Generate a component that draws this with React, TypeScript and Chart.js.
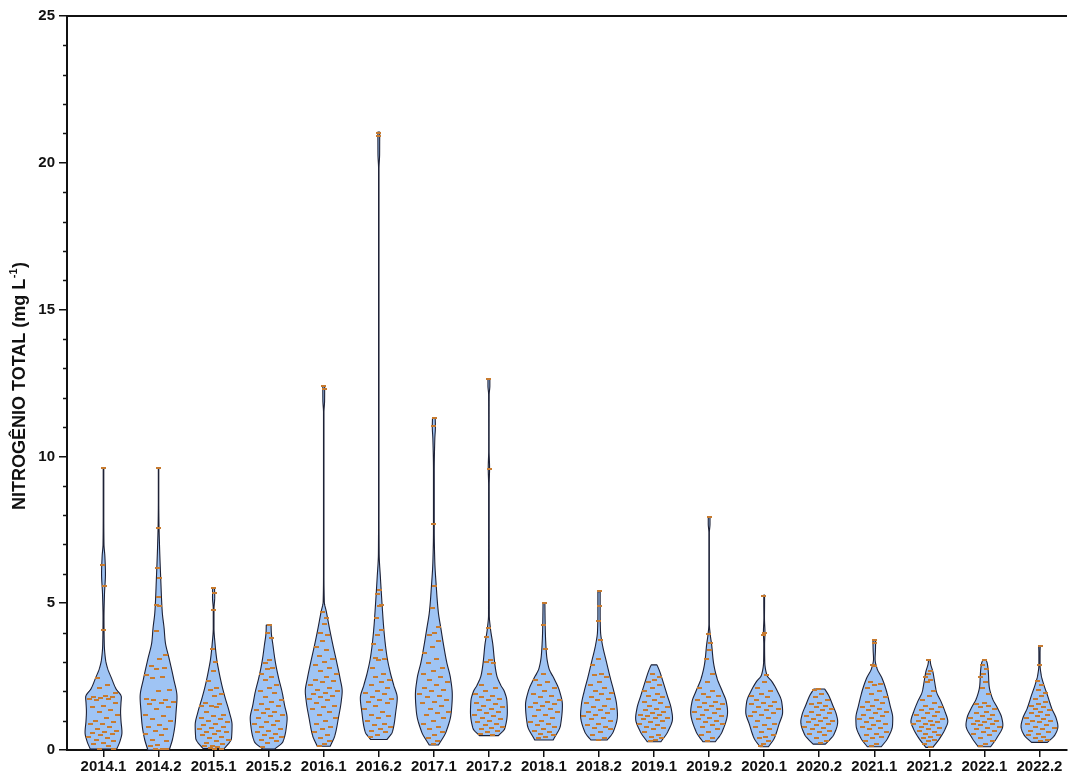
import React, { useEffect, useRef } from "react";
import { Chart, registerables } from "chart.js";

Chart.register(...registerables);

const CATEGORIES = [
  "2014.1", "2014.2", "2015.1", "2015.2", "2016.1", "2016.2", "2017.1", "2017.2", "2018.1",
  "2018.2", "2019.1", "2019.2", "2020.1", "2020.2", "2021.1", "2021.2", "2022.1", "2022.2",
];
const Y_TICKS = [0, 5, 10, 15, 20, 25];
const Y_TITLE_MAIN = "NITROGÊNIO TOTAL (mg L";
const Y_TITLE_SUP = "-1";
const Y_TITLE_END = ")";

// Violin density profiles: [value, relative density]
const PROFILE_2014_1 = [[0.03,0.68],[0.3,0.85],[0.6,0.95],[1.0,0.9],[1.3,0.88],[1.6,0.9],[1.8,0.92],[2.1,0.63],[2.45,0.41],[2.8,0.2],[3.1,0.1],[3.6,0.04],[4.5,0.025],[5.3,0.05],[6.0,0.1],[6.6,0.07],[7.0,0.025],[8.0,0.015],[9.6,0.015]];
const PROFILE_2014_2 = [[0.0,0.58],[0.4,0.77],[0.9,0.9],[1.3,0.95],[1.8,1.0],[2.45,0.81],[3.1,0.58],[3.7,0.36],[4.15,0.3],[4.7,0.2],[5.8,0.12],[7.0,0.05],[7.8,0.02],[8.5,0.012],[9.6,0.012]];
const PROFILE_2015_1 = [[0.05,0.58],[0.4,0.97],[0.85,1.0],[1.3,0.85],[1.77,0.63],[2.2,0.45],[2.67,0.29],[3.13,0.16],[3.6,0.08],[4.15,0.02],[4.8,0.02],[5.2,0.06],[5.53,0.05]];
const PROFILE_2015_2 = [[0.03,0.32],[0.28,0.77],[0.74,0.95],[1.08,1.0],[1.53,0.86],[2.0,0.72],[2.45,0.54],[3.0,0.36],[3.58,0.23],[4.03,0.14],[4.26,0.13]];
const PROFILE_2016_1 = [[0.13,0.34],[0.5,0.59],[1.08,0.77],[1.65,0.92],[2.0,0.97],[2.44,0.86],[3.0,0.68],[3.58,0.48],[4.15,0.3],[4.7,0.14],[5.05,0.03],[6.0,0.012],[11.5,0.012],[11.9,0.045],[12.4,0.05]];
const PROFILE_2016_2 = [[0.36,0.45],[0.62,0.74],[1.3,0.92],[1.77,1.0],[2.21,0.81],[2.67,0.61],[3.24,0.43],[4.14,0.27],[4.94,0.18],[5.85,0.09],[6.7,0.02],[8.0,0.012],[19.8,0.012],[20.3,0.045],[21.05,0.05]];
const PROFILE_2017_1 = [[0.17,0.24],[0.62,0.63],[1.3,0.9],[1.87,0.95],[2.44,0.86],[3.0,0.66],[3.58,0.5],[4.15,0.36],[4.7,0.23],[5.62,0.12],[6.4,0.05],[7.5,0.02],[9.5,0.02],[10.6,0.05],[11.0,0.08],[11.3,0.07]];
const PROFILE_2017_2 = [[0.49,0.5],[0.74,0.84],[1.3,0.97],[1.65,0.95],[2.0,0.81],[2.2,0.63],[2.55,0.41],[3.0,0.3],[3.58,0.21],[4.14,0.08],[4.6,0.02],[9.0,0.015],[9.6,0.035],[10.2,0.012],[12.1,0.015],[12.4,0.05],[12.65,0.05]];
const PROFILE_2018_1 = [[0.34,0.5],[0.85,0.9],[1.53,1.0],[2.0,0.85],[2.44,0.54],[2.78,0.27],[3.24,0.14],[4.14,0.07],[5.0,0.05]];
const PROFILE_2018_2 = [[0.34,0.43],[0.62,0.75],[1.19,0.97],[1.53,0.93],[2.0,0.78],[2.44,0.6],[3.0,0.39],[3.58,0.18],[4.03,0.08],[4.6,0.06],[5.39,0.06]];
const PROFILE_2019_1 = [[0.28,0.36],[0.62,0.72],[1.08,0.97],[1.42,0.9],[1.87,0.69],[2.33,0.47],[2.67,0.3],[2.8,0.22],[2.9,0.15]];
const PROFILE_2019_2 = [[0.28,0.32],[0.62,0.67],[1.3,0.95],[1.65,0.88],[2.0,0.68],[2.44,0.41],[3.0,0.22],[3.58,0.13],[3.97,0.05],[4.3,0.012],[7.4,0.012],[7.7,0.045],[7.95,0.045]];
const PROFILE_2020_1 = [[0.11,0.22],[0.4,0.52],[0.85,0.75],[1.3,0.95],[1.65,0.9],[2.0,0.68],[2.33,0.4],[2.55,0.14],[3.0,0.03],[3.6,0.02],[4.0,0.04],[4.5,0.015],[5.0,0.02],[5.28,0.02]];
const PROFILE_2020_2 = [[0.2,0.32],[0.35,0.55],[0.51,0.75],[0.97,0.96],[1.19,0.9],[1.53,0.7],[1.87,0.48],[2.04,0.32],[2.08,0.28]];
const PROFILE_2021_1 = [[0.11,0.36],[0.4,0.69],[0.85,0.94],[1.08,0.95],[1.53,0.81],[2.0,0.63],[2.44,0.4],[2.78,0.14],[3.1,0.04],[3.4,0.06],[3.72,0.07]];
const PROFILE_2021_2 = [[0.09,0.18],[0.4,0.54],[0.74,0.83],[0.97,0.95],[1.3,0.81],[1.65,0.6],[2.0,0.36],[2.33,0.27],[2.67,0.18],[2.95,0.06],[3.07,0.04]];
const PROFILE_2022_1 = [[0.11,0.32],[0.4,0.63],[0.85,0.95],[1.08,0.9],[1.42,0.68],[1.76,0.41],[2.2,0.24],[2.67,0.2],[2.97,0.14],[3.07,0.08]];
const PROFILE_2022_2 = [[0.26,0.41],[0.51,0.79],[0.8,0.95],[1.08,0.86],[1.42,0.63],[1.87,0.41],[2.21,0.23],[2.55,0.09],[2.9,0.03],[3.3,0.03],[3.55,0.04]];

// Individual observations
const POINTS_2014_1 = [9.6,6.3,5.6,4.1,2.45,2.2,2.1,1.95,1.85,1.8,1.8,1.78,1.75,1.75,1.7,1.6,1.5,1.45,1.35,1.3,1.2,1.1,1.0,0.95,0.9,0.88,0.8,0.7,0.65,0.6,0.58,0.55,0.5,0.45,0.42,0.35,0.3,0.25,0.2,0.12,0.05,0.03];
const POINTS_2014_2 = [9.6,7.55,6.2,5.85,5.2,4.95,4.9,4.05,3.25,3.1,2.85,2.8,2.75,2.55,2.5,2.45,2.05,2.0,1.75,1.72,1.7,1.65,1.6,1.55,1.45,1.4,1.2,1.15,1.05,1.0,0.85,0.8,0.7,0.65,0.55,0.5,0.35,0.3,0.18,0.15,0.02,0.02,0.02,0.01];
const POINTS_2015_1 = [5.53,5.35,4.77,3.45,3.0,2.7,2.35,2.1,2.05,1.9,1.85,1.6,1.55,1.5,1.5,1.45,1.3,1.2,1.15,1.1,1.05,1.0,0.95,0.9,0.85,0.8,0.75,0.7,0.65,0.6,0.6,0.55,0.5,0.45,0.4,0.35,0.3,0.25,0.2,0.15,0.12,0.1,0.08,0.05,0.05];
const POINTS_2015_2 = [4.25,4.0,3.8,3.05,2.95,2.8,2.75,2.6,2.5,2.4,2.2,2.1,2.0,1.95,1.8,1.7,1.65,1.55,1.5,1.4,1.35,1.3,1.25,1.2,1.15,1.1,1.0,0.95,0.9,0.85,0.8,0.7,0.65,0.6,0.55,0.5,0.45,0.4,0.35,0.3,0.25,0.1];
const POINTS_2016_1 = [12.4,12.3,4.7,4.5,4.3,4.0,3.9,3.7,3.5,3.4,3.2,3.1,3.0,2.9,2.8,2.7,2.6,2.5,2.4,2.35,2.3,2.2,2.1,2.05,2.0,1.95,1.9,1.85,1.8,1.75,1.7,1.6,1.5,1.45,1.4,1.3,1.2,1.1,1.0,0.9,0.8,0.7,0.6,0.5,0.4,0.3,0.2,0.15];
const POINTS_2016_2 = [21.0,20.9,5.45,5.3,4.95,4.9,4.5,4.1,3.9,3.6,3.4,3.15,3.1,3.05,2.8,2.6,2.5,2.4,2.3,2.2,2.1,2.0,1.95,1.9,1.8,1.75,1.7,1.65,1.6,1.5,1.4,1.3,1.2,1.15,1.1,1.0,0.9,0.85,0.8,0.7,0.65,0.6,0.5,0.45];
const POINTS_2017_1 = [11.3,11.05,7.7,5.6,4.85,4.2,4.0,3.9,3.7,3.5,3.3,3.1,2.95,2.8,2.7,2.6,2.5,2.4,2.3,2.2,2.1,2.05,2.0,1.9,1.85,1.8,1.7,1.65,1.6,1.5,1.4,1.3,1.25,1.2,1.1,1.0,0.9,0.8,0.7,0.6,0.5,0.4,0.3,0.2];
const POINTS_2017_2 = [12.62,9.57,4.15,3.85,3.05,3.0,2.95,2.6,2.2,2.1,2.0,1.9,1.85,1.8,1.75,1.7,1.6,1.55,1.5,1.45,1.4,1.35,1.3,1.25,1.2,1.15,1.1,1.05,1.0,0.95,0.9,0.85,0.8,0.75,0.7,0.65,0.6,0.55,0.5];
const POINTS_2018_1 = [5.0,4.25,3.45,2.6,2.4,2.3,2.2,2.1,2.0,1.9,1.85,1.8,1.7,1.65,1.6,1.55,1.5,1.45,1.4,1.35,1.3,1.2,1.15,1.1,1.0,0.95,0.9,0.85,0.8,0.7,0.65,0.6,0.55,0.5,0.45,0.4];
const POINTS_2018_2 = [5.4,4.9,4.4,3.75,3.1,2.9,2.6,2.55,2.5,2.3,2.2,2.1,2.0,1.95,1.9,1.8,1.75,1.7,1.6,1.5,1.45,1.4,1.35,1.3,1.25,1.2,1.15,1.1,1.05,1.0,0.9,0.85,0.8,0.75,0.7,0.6,0.5,0.4,0.35];
const POINTS_2019_1 = [2.6,2.5,2.4,2.3,2.2,2.1,2.0,1.9,1.85,1.8,1.7,1.65,1.6,1.5,1.45,1.4,1.35,1.3,1.25,1.2,1.2,1.15,1.1,1.1,1.05,1.0,0.95,0.9,0.85,0.8,0.75,0.7,0.6,0.5,0.45,0.4,0.35,0.3];
const POINTS_2019_2 = [7.92,3.95,3.65,3.4,3.1,2.6,2.3,2.1,2.0,1.9,1.85,1.8,1.7,1.65,1.6,1.55,1.5,1.45,1.4,1.35,1.3,1.25,1.2,1.15,1.1,1.05,1.0,0.95,0.9,0.85,0.8,0.7,0.6,0.5,0.4,0.3];
const POINTS_2020_1 = [5.25,4.0,3.9,2.55,2.3,2.1,2.0,1.9,1.85,1.8,1.7,1.65,1.6,1.55,1.5,1.45,1.4,1.35,1.3,1.25,1.2,1.15,1.1,1.0,0.9,0.85,0.8,0.7,0.6,0.5,0.45,0.4,0.3,0.2,0.12];
const POINTS_2020_2 = [2.07,2.05,1.9,1.8,1.7,1.6,1.55,1.5,1.45,1.4,1.35,1.3,1.25,1.2,1.15,1.1,1.05,1.0,1.0,0.95,0.9,0.85,0.8,0.75,0.7,0.65,0.6,0.55,0.5,0.4,0.3,0.25];
const POINTS_2021_1 = [3.75,3.65,2.9,2.85,2.3,2.25,2.2,2.1,2.0,1.9,1.8,1.7,1.65,1.6,1.5,1.45,1.4,1.35,1.3,1.25,1.2,1.15,1.1,1.05,1.0,0.95,0.9,0.85,0.8,0.75,0.7,0.6,0.55,0.5,0.45,0.4,0.3,0.2,0.15];
const POINTS_2021_2 = [3.05,2.7,2.6,2.5,2.4,2.3,2.0,1.85,1.7,1.6,1.5,1.45,1.4,1.35,1.3,1.25,1.2,1.15,1.1,1.05,1.0,1.0,0.95,0.9,0.9,0.85,0.8,0.75,0.7,0.65,0.6,0.55,0.5,0.45,0.4,0.35,0.3,0.2,0.1];
const POINTS_2022_1 = [3.05,2.9,2.75,2.6,2.5,2.3,2.1,1.9,1.6,1.55,1.5,1.45,1.4,1.3,1.25,1.2,1.15,1.1,1.05,1.0,1.0,0.95,0.9,0.9,0.85,0.8,0.75,0.7,0.65,0.6,0.55,0.5,0.4,0.3,0.2,0.15];
const POINTS_2022_2 = [3.55,2.9,2.35,2.2,2.05,1.95,1.85,1.75,1.65,1.55,1.5,1.45,1.4,1.35,1.3,1.25,1.2,1.15,1.1,1.05,1.0,1.0,0.95,0.9,0.85,0.8,0.75,0.7,0.65,0.6,0.55,0.5,0.45,0.4,0.35,0.3];

const PROFILES = [
  PROFILE_2014_1, PROFILE_2014_2, PROFILE_2015_1, PROFILE_2015_2, PROFILE_2016_1, PROFILE_2016_2,
  PROFILE_2017_1, PROFILE_2017_2, PROFILE_2018_1, PROFILE_2018_2, PROFILE_2019_1, PROFILE_2019_2,
  PROFILE_2020_1, PROFILE_2020_2, PROFILE_2021_1, PROFILE_2021_2, PROFILE_2022_1, PROFILE_2022_2,
];
const POINTS = [
  POINTS_2014_1, POINTS_2014_2, POINTS_2015_1, POINTS_2015_2, POINTS_2016_1, POINTS_2016_2,
  POINTS_2017_1, POINTS_2017_2, POINTS_2018_1, POINTS_2018_2, POINTS_2019_1, POINTS_2019_2,
  POINTS_2020_1, POINTS_2020_2, POINTS_2021_1, POINTS_2021_2, POINTS_2022_1, POINTS_2022_2,
];

const HALF_WIDTH = 0.335; // max violin half-width in category units
const VIOLIN_FILL = "#9fc4f4";
const VIOLIN_STROKE = "#1d2136";
const POINT_COLOR = "#c77b30";
const FONT = "'Liberation Sans', Arial, sans-serif";

function pchip(knots: number[][]) {
  const xs = knots.map((k) => k[0]);
  const ys = knots.map((k) => k[1]);
  const n = xs.length;
  const h: number[] = [];
  const d: number[] = [];
  for (let i = 0; i < n - 1; i++) {
    h.push(xs[i + 1] - xs[i]);
    d.push((ys[i + 1] - ys[i]) / (xs[i + 1] - xs[i]));
  }
  const m: number[] = new Array(n).fill(0);
  m[0] = d[0];
  m[n - 1] = d[n - 2];
  for (let i = 1; i < n - 1; i++) {
    if (d[i - 1] * d[i] <= 0) m[i] = 0;
    else {
      const w1 = 2 * h[i] + h[i - 1];
      const w2 = h[i] + 2 * h[i - 1];
      m[i] = (w1 + w2) / (w1 / d[i - 1] + w2 / d[i]);
    }
  }
  return (x: number) => {
    if (x <= xs[0]) return ys[0];
    if (x >= xs[n - 1]) return ys[n - 1];
    let i = 0;
    while (i < n - 2 && x > xs[i + 1]) i++;
    const t = (x - xs[i]) / h[i];
    const t2 = t * t;
    const t3 = t2 * t;
    const v =
      (2 * t3 - 3 * t2 + 1) * ys[i] +
      (t3 - 2 * t2 + t) * h[i] * m[i] +
      (-2 * t3 + 3 * t2) * ys[i + 1] +
      (t3 - t2) * h[i] * m[i + 1];
    return Math.max(v, 0.006);
  };
}

const WIDTH_FNS = PROFILES.map((p) => {
  const f = pchip(p);
  const maxW = Math.max(...p.map((k) => k[1]));
  return (v: number) => (f(v) / maxW) * HALF_WIDTH;
});

function buildPointData() {
  const out: { x: number; y: number }[] = [];
  POINTS.forEach((vals, ci) => {
    const fw = WIDTH_FNS[ci];
    vals.forEach((v, k) => {
      const s = (((k + 1) * 0.6180339887 + ci * 0.37) % 1) * 2 - 1;
      out.push({ x: ci + s * fw(v) * 0.85, y: v });
    });
  });
  return out;
}

const violinPlugin = {
  id: "violins",
  beforeDatasetsDraw(chart: any) {
    const { ctx, scales } = chart;
    const xs = scales.x;
    const ys = scales.y;
    ctx.save();
    PROFILES.forEach((p, ci) => {
      const fw = WIDTH_FNS[ci];
      const vMin = p[0][0];
      const vMax = p[p.length - 1][0];
      const steps = Math.max(40, Math.ceil(ys.getPixelForValue(vMin) - ys.getPixelForValue(vMax)));
      const xc = xs.getPixelForValue(ci);
      const right: number[][] = [];
      for (let s = 0; s <= steps; s++) {
        const v = vMin + ((vMax - vMin) * s) / steps;
        const hw = xs.getPixelForValue(ci + fw(v)) - xc;
        right.push([hw, ys.getPixelForValue(v)]);
      }
      ctx.beginPath();
      right.forEach(([hw, py], idx) => {
        if (idx === 0) ctx.moveTo(xc + hw, py);
        else ctx.lineTo(xc + hw, py);
      });
      for (let idx = right.length - 1; idx >= 0; idx--) {
        const [hw, py] = right[idx];
        ctx.lineTo(xc - hw, py);
      }
      ctx.closePath();
      ctx.fillStyle = VIOLIN_FILL;
      ctx.fill();
      ctx.lineWidth = 1.1;
      ctx.strokeStyle = VIOLIN_STROKE;
      ctx.lineJoin = "round";
      ctx.stroke();
    });
    ctx.restore();
  },
  afterDraw(chart: any) {
    const { ctx, chartArea, scales } = chart;
    const ys = scales.y;
    ctx.save();
    ctx.strokeStyle = "#111";
    ctx.lineWidth = 2;
    ctx.beginPath();
    ctx.moveTo(chartArea.left - 1, chartArea.top);
    ctx.lineTo(chartArea.right, chartArea.top);
    ctx.stroke();
    ctx.lineWidth = 1.5;
    for (let v = 1; v < 25; v++) {
      if (v % 5 === 0) continue;
      const py = Math.round(ys.getPixelForValue(v)) + 0.5;
      ctx.beginPath();
      ctx.moveTo(chartArea.left - 4, py);
      ctx.lineTo(chartArea.left, py);
      ctx.stroke();
    }
    ctx.fillStyle = "#111";
    ctx.textBaseline = "alphabetic";
    const mainFont = `bold 18px ${FONT}`;
    const supFont = `bold 11px ${FONT}`;
    ctx.font = mainFont;
    const w1 = ctx.measureText(Y_TITLE_MAIN).width;
    const w3 = ctx.measureText(Y_TITLE_END).width;
    ctx.font = supFont;
    const w2 = ctx.measureText(Y_TITLE_SUP).width;
    const total = w1 + w2 + w3 + 1;
    ctx.translate(25, 386);
    ctx.rotate(-Math.PI / 2);
    let x0 = -total / 2;
    ctx.textAlign = "left";
    ctx.font = mainFont;
    ctx.fillText(Y_TITLE_MAIN, x0, 0);
    x0 += w1 + 0.5;
    ctx.font = supFont;
    ctx.fillText(Y_TITLE_SUP, x0, -8);
    x0 += w2 + 0.5;
    ctx.font = mainFont;
    ctx.fillText(Y_TITLE_END, x0, 0);
    ctx.restore();
  },
};

function makeDash() {
  const c = document.createElement("canvas");
  c.width = 5;
  c.height = 2;
  const g = c.getContext("2d")!;
  g.fillStyle = POINT_COLOR;
  g.fillRect(0, 0, 5, 2);
  return c;
}

export default function App() {
  const ref = useRef<HTMLCanvasElement | null>(null);
  useEffect(() => {
    if (!ref.current) return;
    const dash = makeDash();
    const chart = new Chart(ref.current, {
      type: "scatter",
      data: {
        datasets: [
          {
            data: buildPointData(),
            pointStyle: dash as any,
            pointRadius: 3,
            pointHoverRadius: 3,
            backgroundColor: POINT_COLOR,
            borderColor: POINT_COLOR,
          },
        ],
      },
      options: {
        animation: false,
        responsive: false,
        devicePixelRatio: 1,
        layout: { padding: { top: 16, right: 1, left: 0, bottom: 0 } },
        plugins: { legend: { display: false }, tooltip: { enabled: false }, title: { display: false } },
        scales: {
          x: {
            type: "linear",
            min: -0.663,
            max: 17.5,
            afterFit: (s: any) => {
              s.height = 28;
            },
            afterBuildTicks: (s: any) => {
              s.ticks = CATEGORIES.map((_, i) => ({ value: i }));
            },
            ticks: {
              autoSkip: false,
              maxRotation: 0,
              minRotation: 0,
              padding: 1,
              color: "#111",
              font: { family: FONT, size: 15, weight: "bold" },
              callback: (v: any) => CATEGORIES[Math.round(Number(v))] ?? "",
            },
            grid: { display: true, drawOnChartArea: false, drawTicks: true, tickLength: 7, color: "#111", lineWidth: 1.5 },
            border: { display: true, color: "#111", width: 2 },
          },
          y: {
            min: 0,
            max: 25,
            afterFit: (s: any) => {
              s.width = 67;
            },
            afterBuildTicks: (s: any) => {
              s.ticks = Y_TICKS.map((v) => ({ value: v }));
            },
            ticks: {
              padding: 4,
              color: "#111",
              font: { family: FONT, size: 15, weight: "bold" },
              callback: (v: any) => String(v),
            },
            grid: { display: true, drawOnChartArea: false, drawTicks: true, tickLength: 8, color: "#111", lineWidth: 1.5 },
            border: { display: true, color: "#111", width: 2 },
          },
        },
      },
      plugins: [violinPlugin],
    });
    return () => chart.destroy();
  }, []);
  return (
    <div style={{ position: "fixed", left: 0, top: 0, width: 1071, height: 778, background: "#fff" }}>
      <canvas ref={ref} width={1071} height={778} style={{ width: 1071, height: 778, display: "block" }} />
    </div>
  );
}
